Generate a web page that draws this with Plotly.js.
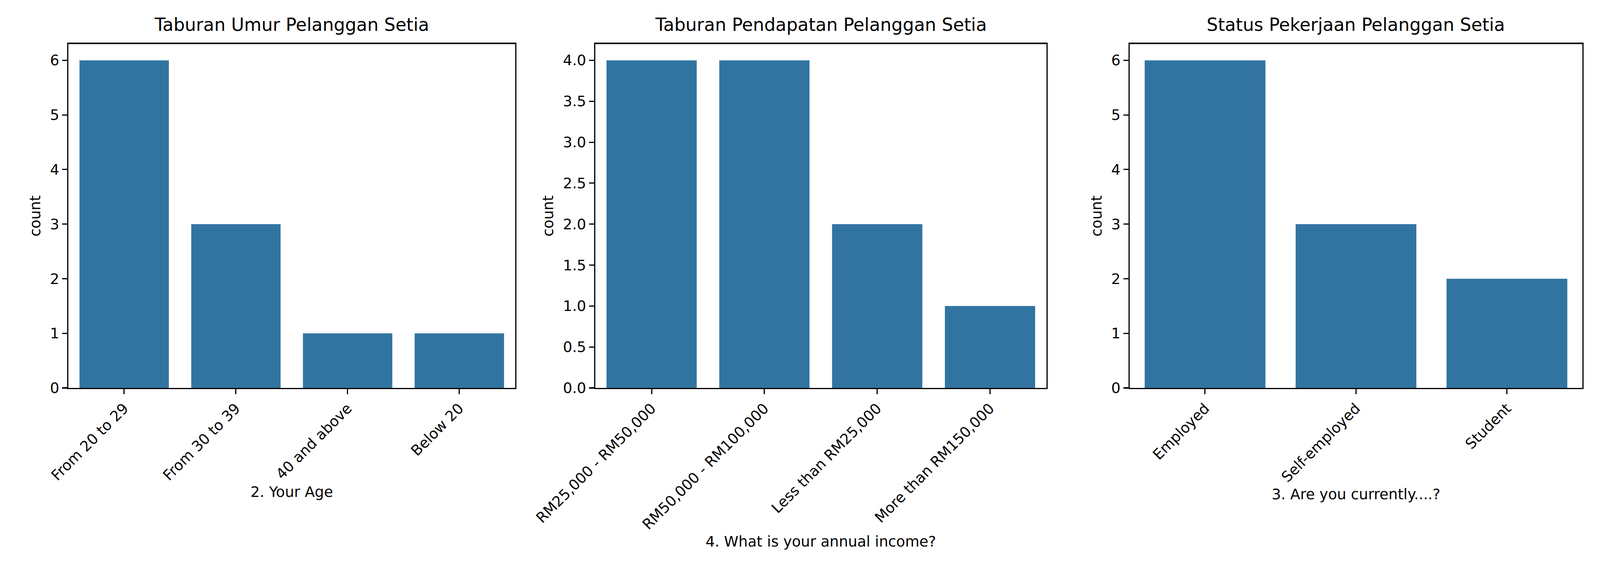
<!DOCTYPE html>
<html>
<head>
<meta charset="utf-8">
<script src="https://cdn.plot.ly/plotly-3.0.1.min.js"></script>
<style>html,body{margin:0;background:#fff;overflow:hidden}#plot{width:100vw;height:100vh}</style>
</head>
<body>
<div id="plot"></div>
<script>
const ageLabels = ['From 20 to 29', 'From 30 to 39', '40 and above', 'Below 20'];
const ageCounts = [6, 3, 1, 1];
const incomeLabels = ['RM25,000 - RM50,000', 'RM50,000 - RM100,000', 'Less than RM25,000', 'More than RM150,000'];
const incomeCounts = [4, 4, 2, 1];
const jobLabels = ['Employed', 'Self-employed', 'Student'];
const jobCounts = [6, 3, 2];

const titles = ['Taburan Umur Pelanggan Setia', 'Taburan Pendapatan Pelanggan Setia', 'Status Pekerjaan Pelanggan Setia'];
const xTitles = ['2. Your Age', '4. What is your annual income?', '3. Are you currently....?'];
const barColor = '#3274a1';

// scale everything to the real viewport width
const W = window.innerWidth, H = window.innerHeight;
const k = W / 4500;
const font = {family: 'DejaVu Sans', size: 41 * k, color: '#000'};

const panels = [[ageLabels, ageCounts], [incomeLabels, incomeCounts], [jobLabels, jobCounts]];
const domains = [[0.0427, 0.322], [0.372, 0.654], [0.706, 0.989]];
const yTicks = [[0, 1, 2, 3, 4, 5, 6], [0, 0.5, 1, 1.5, 2, 2.5, 3, 3.5, 4], [0, 1, 2, 3, 4, 5, 6]];

let data = [];
let layout = {
    width: W, height: H,
    margin: {l: 0, r: 0, t: 0, b: 0},
    paper_bgcolor: '#fff', plot_bgcolor: '#fff',
    font: font, showlegend: false, bargap: 0.2,
    annotations: []
};
panels.forEach((p, i) => {
    const n = i === 0 ? '' : String(i + 1);
    data.push({
        type: 'bar', x: p[0], y: p[1], marker: {color: barColor},
        xaxis: 'x' + n, yaxis: 'y' + n, hoverinfo: 'skip'
    });
    const maxV = Math.max(...p[1]);
    layout['xaxis' + n] = {
        domain: domains[i], anchor: 'y' + n, range: [-0.5, p[0].length - 0.5],
        showline: true, mirror: true, linecolor: '#000', linewidth: 3.3 * k,
        ticks: 'outside', ticklen: 14 * k, tickwidth: 3.3 * k, tickcolor: '#000',
        tickangle: -45, showgrid: false, tickfont: font,
        title: {text: xTitles[i], font: font, standoff: 10 * k}
    };
    layout['yaxis' + n] = {
        domain: [0.338, 0.925], anchor: 'x' + n, range: [0, maxV * 1.05],
        tickvals: yTicks[i], ticktext: yTicks[i].map(v => i === 1 ? v.toFixed(1) : String(v)),
        showline: true, mirror: true, linecolor: '#000', linewidth: 3.3 * k,
        ticks: 'outside', ticklen: 14 * k, tickwidth: 3.3 * k, tickcolor: '#000',
        showgrid: false, zeroline: false, tickfont: font,
        title: {text: 'count', font: font, standoff: 15 * k}
    };
    layout.annotations.push({
        text: titles[i], xref: 'paper', yref: 'paper',
        x: (domains[i][0] + domains[i][1]) / 2, y: 0.925, yshift: 22 * k,
        xanchor: 'center', yanchor: 'bottom', showarrow: false,
        font: {family: 'DejaVu Sans', size: 50 * k, color: '#000'}
    });
});
Plotly.newPlot('plot', data, layout, {staticPlot: true});
</script>
</body>
</html>
